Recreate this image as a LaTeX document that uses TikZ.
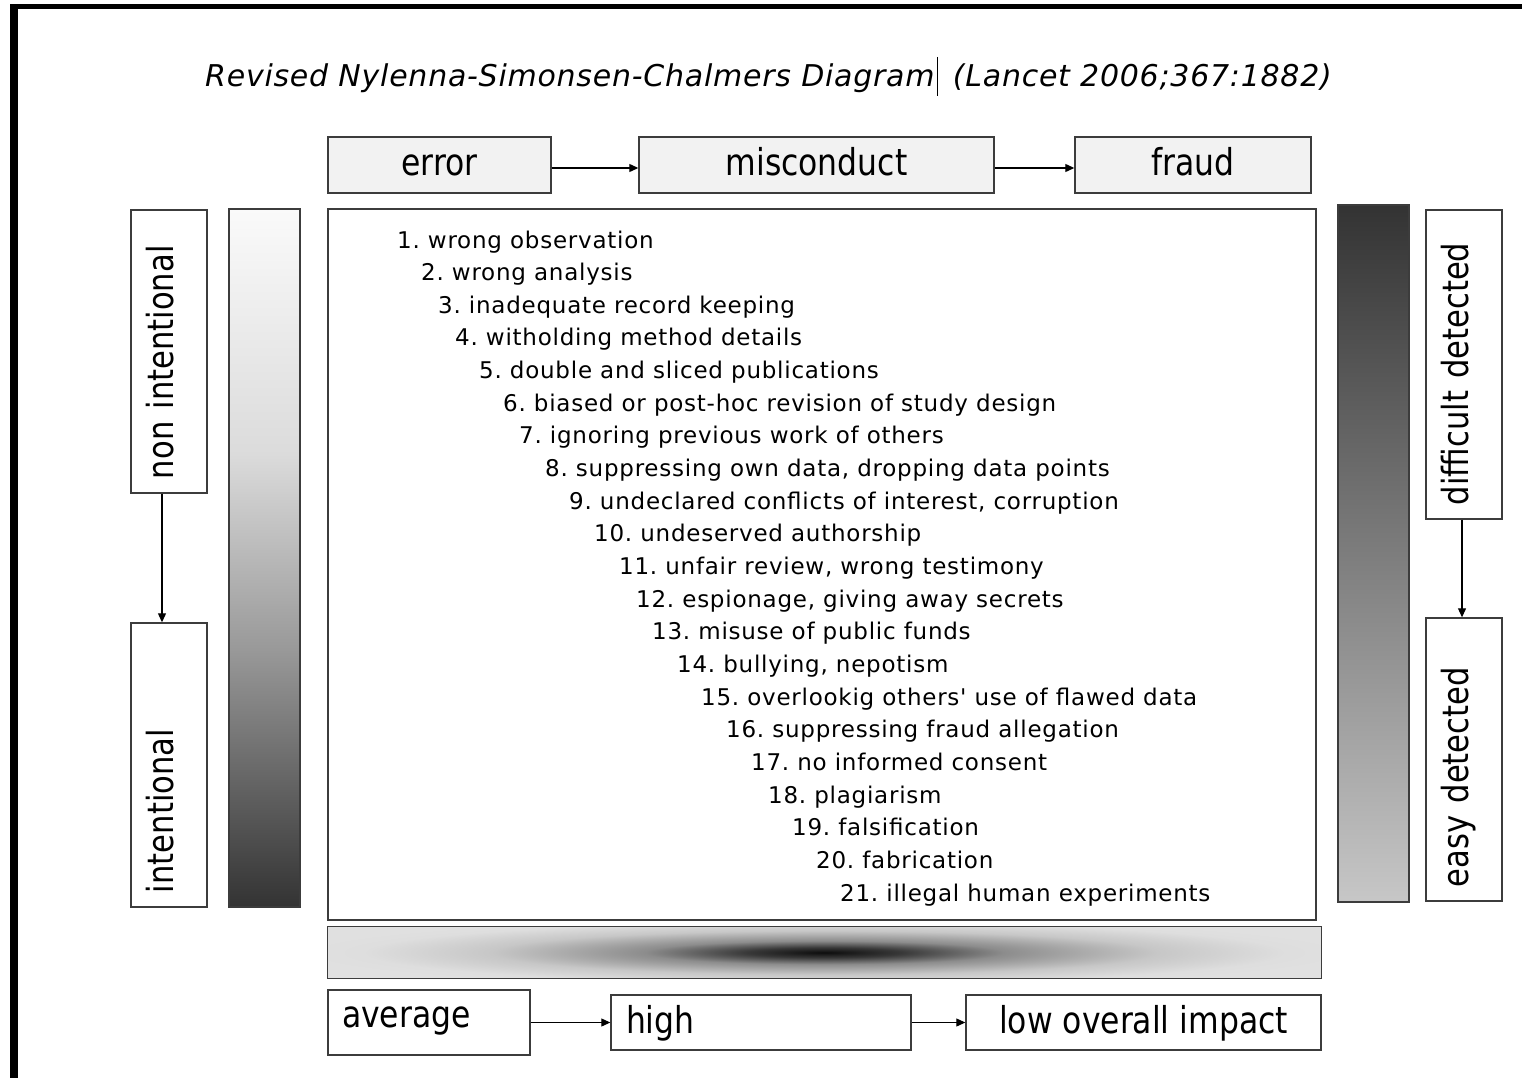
\documentclass[tikz,border=0pt]{standalone}
\usepackage{fontspec}
\setmainfont{DejaVu Sans}[FakeStretch=0.85]
\newfontfamily\listfont{DejaVu Sans}[LetterSpace=3.3]
\newfontfamily\titlefont{DejaVu Sans}[LetterSpace=2.5]
\usetikzlibrary{arrows.meta}

\definecolor{boxgray}{RGB}{242,242,242}
\definecolor{barlight}{RGB}{224,224,224}
\definecolor{bardark}{RGB}{51,51,51}
\definecolor{edgegray}{RGB}{60,60,60}

% shading of the left bar, light at the top
\pgfdeclareverticalshading{leftshade}{100bp}{color(0bp)=(bardark); color(25bp)=(bardark); color(43.5bp)=(black!40); color(57.5bp)=(black!14); color(75bp)=(black!2); color(100bp)=(black!2)}
% dark spindle of the impact bar
\pgfdeclareradialshading{lensshade}{\pgfpoint{0bp}{0bp}}{color(0bp)=(black!95); color(3bp)=(black!78); color(7bp)=(black!45); color(13bp)=(black!22); color(18bp)=(black!13); color(21bp)=(black!12); color(50bp)=(black!12)}

\tikzset{
  box/.style={draw=edgegray, line width=1.4pt, inner sep=0pt, text height=28pt, text depth=6pt, font=\fontsize{37}{40}\selectfont},
  topbox/.style={box, fill=boxgray, minimum height=56pt},
  sidebox/.style={box, rotate=90, minimum height=76pt, inner xsep=14pt, align=left, text height=21pt, text depth=13pt, font=\fontsize{36}{40}\selectfont},
  bar/.style={draw=edgegray, line width=1.4pt, inner sep=0pt},
  item/.style={anchor=base west, inner sep=0pt, font=\listfont\fontsize{23}{26}\selectfont},
  link/.style={line width=1.1pt, -{Triangle[length=9pt,width=8pt]}},
}

\begin{document}
\begin{tikzpicture}[x=1pt, y=-1pt]
\useasboundingbox (0,0) rectangle (1522,1078);

% frame
\fill[black] (10,4) rectangle (1522,9);
\fill[black] (10,4) rectangle (18,1078);

% title
\node (titlea) [anchor=base west, inner sep=0pt, font=\titlefont\fontsize{30}{34}\selectfont\itshape] at (205,87) {Revised Nylenna-Simonsen-Chalmers Diagram};
\coordinate (caret) at ([xshift=3pt]titlea.base east);
\draw[line width=1.2pt] ([yshift=30pt]caret) -- ([yshift=-9pt]caret);
\node (titleb) [anchor=base west, inner sep=0pt, font=\titlefont\fontsize{30}{34}\selectfont\itshape] at ([xshift=15pt]caret) {(Lancet 2006;367:1882)};

% top row
\node[topbox, minimum width=223pt] (error) at (439.5,165) {error};
\node[topbox, minimum width=355pt] (misconduct) at (816.5,165) {misconduct};
\node[topbox, minimum width=236pt] (fraud) at (1193,165) {fraud};
\draw[link] ([yshift=-3pt]error.east) -- ([yshift=-3pt]misconduct.west);
\draw[link] ([yshift=-3pt]misconduct.east) -- ([yshift=-3pt]fraud.west);

% left side
\node[sidebox, minimum width=283pt, text width=255pt] (nonint) at (169,351.5) {non intentional};
\node[sidebox, minimum width=284pt, text width=256pt] (intent) at (169,765) {intentional};
\draw[link] ([xshift=-7pt]nonint.west) -- ([xshift=-7pt]intent.east);
\node[bar, shading=leftshade, minimum width=71pt, minimum height=698pt] (leftbar) at (264.5,558) {};

% right side
\node[bar, top color=bardark, bottom color=black!22, minimum width=71pt, minimum height=697pt] (rightbar) at (1373.5,553.5) {};
\node[sidebox, minimum width=309pt, text width=281pt] (difficult) at (1464,364.5) {difficult detected};
\node[sidebox, minimum width=283pt, text width=255pt] (easy) at (1464,759.5) {easy detected};
\draw[link] ([xshift=-2pt]difficult.west) -- ([xshift=-2pt]easy.east);

% list
\node[bar, fill=white, line width=1.2pt, minimum width=988pt, minimum height=711pt] (listbox) at (822,564.5) {};
\foreach \n/\xx/\txt in {1/397/wrong observation, 2/421/wrong analysis, 3/438/inadequate record keeping,
  4/455/witholding method details, 5/479/double and sliced publications,
  6/503/biased or post-hoc revision of study design, 7/519/ignoring previous work of others,
  8/545/{suppressing own data, dropping data points}, 9/569/{undeclared conflicts of interest, corruption},
  10/594/undeserved authorship, 11/619/{unfair review, wrong testimony}, 12/636/{espionage, giving away secrets},
  13/652/misuse of public funds, 14/677/{bullying, nepotism}, 15/701/overlookig others' use of flawed data,
  16/726/suppressing fraud allegation, 17/751/no informed consent, 18/768/plagiarism,
  19/792/falsification, 20/816/fabrication, 21/840/illegal human experiments}{
  \node[item] (item\n) at (\xx, 248+32.65*\n-32.65) {\n.~\txt};
}

% impact bar
\node[bar, fill=barlight, minimum width=993pt, minimum height=51pt] (impbar) at (824.5,952.5) {};
\begin{scope}
  \clip (impbar.south west) rectangle (impbar.north east);
  \shade[shading=lensshade] (impbar.center) ellipse [x radius=640pt, y radius=42pt];
\end{scope}
\draw[edgegray, line width=1.4pt] (impbar.south west) rectangle (impbar.north east);

% bottom row
\node[box, minimum width=202pt, minimum height=65pt, text width=174pt, inner xsep=14pt, align=left, text height=22pt, text depth=12pt] (average) at (429,1022.5) {average};
\node[box, minimum width=300pt, minimum height=55pt, text width=270pt, inner xsep=15pt, align=left] (high) at (761,1022.5) {high};
\node[box, minimum width=355pt, minimum height=55pt] (lowimp) at (1143.5,1022.5) {low overall impact};
\draw[link] (average) -- (high);
\draw[link] (high) -- (lowimp);
\end{tikzpicture}
\end{document}
